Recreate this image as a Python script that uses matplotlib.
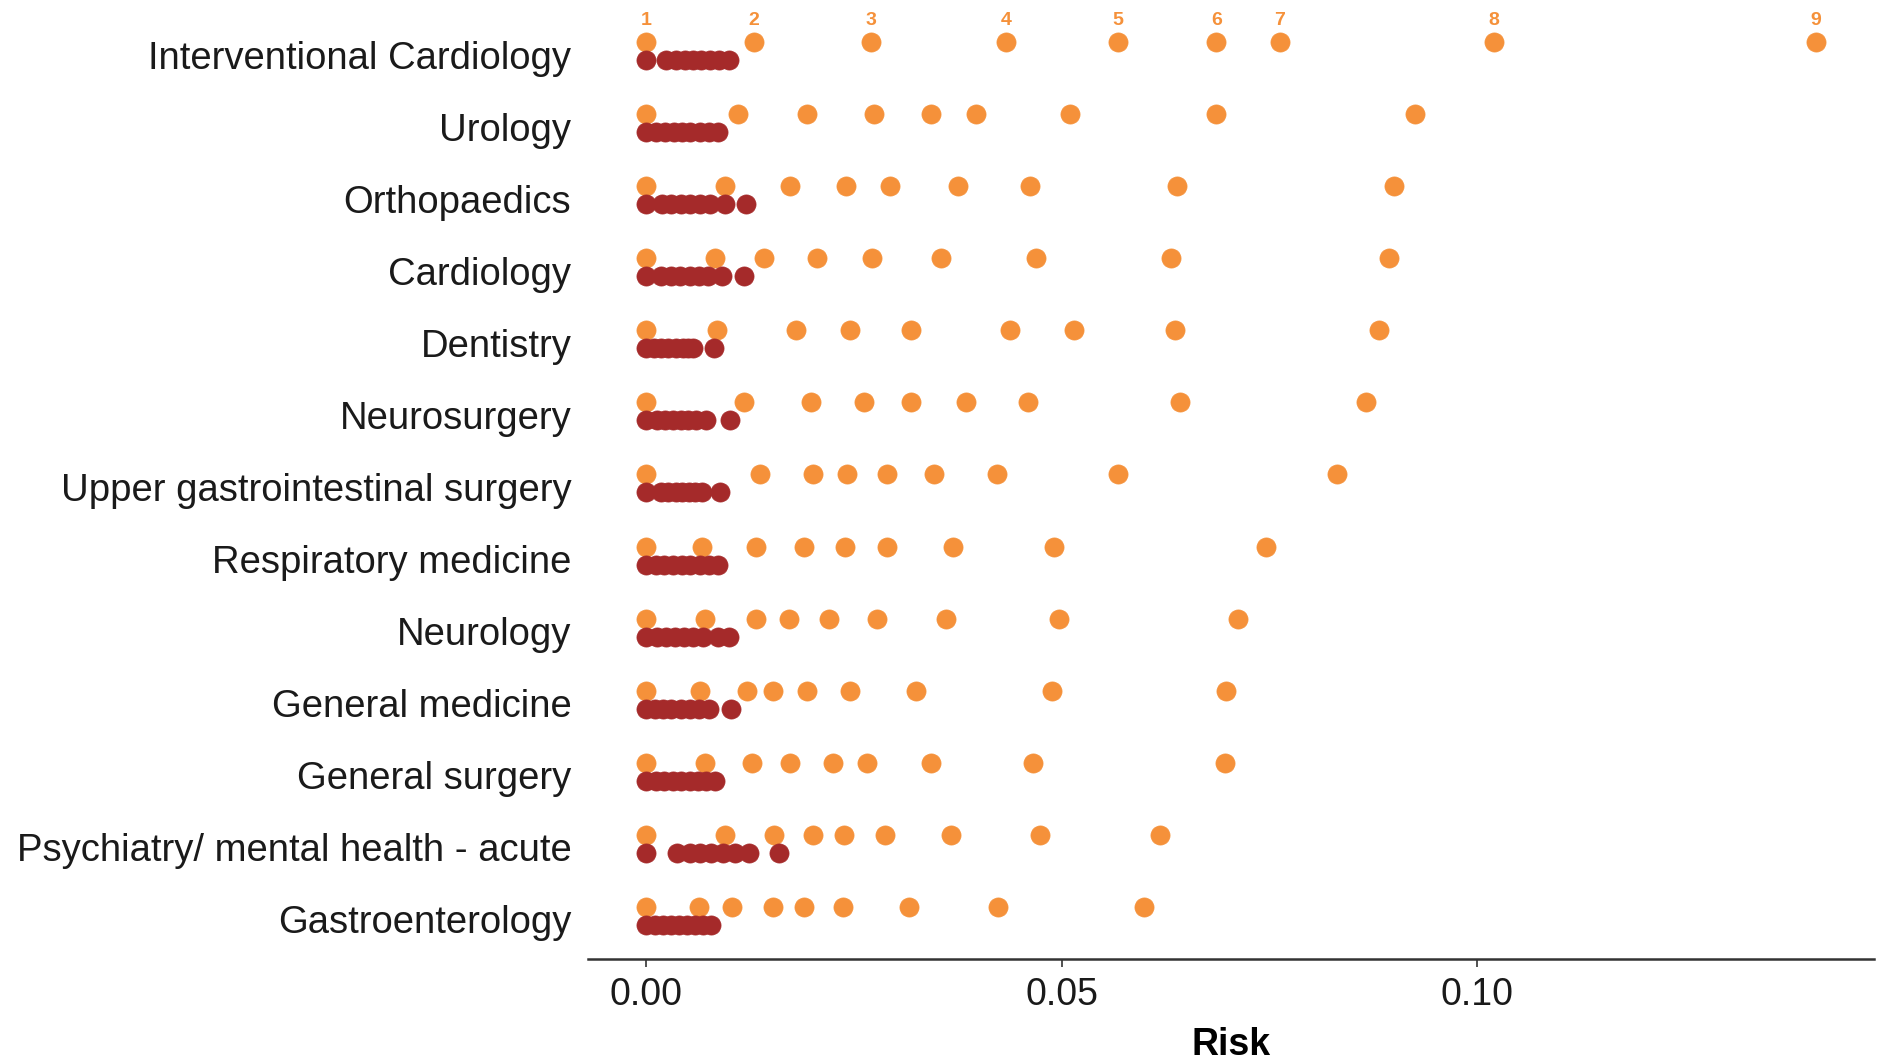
import matplotlib
matplotlib.use("Agg")
import matplotlib.pyplot as plt
import matplotlib.transforms as mtransforms
import numpy as np

plt.rcParams['font.family'] = ['Liberation Sans', 'DejaVu Sans']

# specialties, top to bottom
specialties = [
    "Interventional Cardiology", "Urology", "Orthopaedics", "Cardiology",
    "Dentistry", "Neurosurgery", "Upper gastrointestinal surgery",
    "Respiratory medicine", "Neurology", "General medicine",
    "General surgery", "Psychiatry/ mental health - acute", "Gastroenterology",
]

# upper (orange) risk values per specialty
risk_orange = [
    [0, 0.0129, 0.0270, 0.0433, 0.0567, 0.0686, 0.0762, 0.1020, 0.1407],
    [0, 0.0110, 0.0193, 0.0274, 0.0343, 0.0397, 0.0510, 0.0685, 0.0925],
    [0, 0.0094, 0.0173, 0.0240, 0.0293, 0.0375, 0.0461, 0.0639, 0.0900],
    [0, 0.0082, 0.0141, 0.0205, 0.0272, 0.0354, 0.0469, 0.0631, 0.0894],
    [0, 0.0085, 0.0180, 0.0245, 0.0318, 0.0437, 0.0515, 0.0636, 0.0881],
    [0, 0.0117, 0.0198, 0.0262, 0.0318, 0.0384, 0.0459, 0.0642, 0.0866],
    [0, 0.0137, 0.0201, 0.0241, 0.0290, 0.0346, 0.0422, 0.0567, 0.0831],
    [0, 0.0067, 0.0132, 0.0190, 0.0239, 0.0289, 0.0369, 0.0490, 0.0745],
    [0, 0.0071, 0.0132, 0.0172, 0.0220, 0.0278, 0.0361, 0.0496, 0.0712],
    [0, 0.0064, 0.0121, 0.0152, 0.0193, 0.0245, 0.0324, 0.0488, 0.0698],
    [0, 0.0070, 0.0127, 0.0173, 0.0224, 0.0266, 0.0342, 0.0465, 0.0696],
    [0, 0.0094, 0.0154, 0.0200, 0.0238, 0.0287, 0.0366, 0.0474, 0.0618],
    [0, 0.0063, 0.0103, 0.0152, 0.0190, 0.0237, 0.0316, 0.0423, 0.0599],
]

# lower (dark red) risk values per specialty
risk_red = [
    [0, 0.0024, 0.0035, 0.0046, 0.0056, 0.0066, 0.0076, 0.0087, 0.0099],
    [0, 0.0012, 0.0022, 0.0033, 0.0043, 0.0053, 0.0064, 0.0075, 0.0086],
    [0, 0.0019, 0.0030, 0.0042, 0.0053, 0.0064, 0.0076, 0.0094, 0.0120],
    [0, 0.0018, 0.0029, 0.0040, 0.0052, 0.0063, 0.0074, 0.0091, 0.0117],
    [0, 0.0009, 0.0018, 0.0026, 0.0035, 0.0044, 0.0050, 0.0056, 0.0081],
    [0, 0.0013, 0.0022, 0.0032, 0.0041, 0.0050, 0.0060, 0.0072, 0.0100],
    [0, 0.0018, 0.0026, 0.0035, 0.0043, 0.0051, 0.0059, 0.0067, 0.0088],
    [0, 0.0011, 0.0021, 0.0032, 0.0043, 0.0053, 0.0064, 0.0075, 0.0086],
    [0, 0.0013, 0.0024, 0.0034, 0.0045, 0.0056, 0.0068, 0.0086, 0.0099],
    [0, 0.0010, 0.0020, 0.0030, 0.0041, 0.0052, 0.0063, 0.0075, 0.0102],
    [0, 0.0011, 0.0021, 0.0032, 0.0042, 0.0052, 0.0062, 0.0072, 0.0083],
    [0, 0.0037, 0.0052, 0.0065, 0.0078, 0.0092, 0.0106, 0.0124, 0.0160],
    [0, 0.0010, 0.0020, 0.0029, 0.0039, 0.0049, 0.0058, 0.0068, 0.0078],
]

rank_labels = ["1", "2", "3", "4", "5", "6", "7", "8", "9"]

orange = "#F5913A"
darkred = "#A52A2A"

fig = plt.figure(figsize=(18.81, 10.62), dpi=100)
ax = fig.add_axes([0.3126, 0.097, 0.6837, 0.8955])

for i, name in enumerate(specialties):
    xo = np.array(risk_orange[i])
    xr = np.array(risk_red[i])
    ax.scatter(xo, np.full(len(xo), i - 0.125), s=190, color=orange,
               edgecolors=orange, linewidths=0.5, zorder=3)
    ax.scatter(xr, np.full(len(xr), i + 0.125), s=190, color=darkred,
               edgecolors=darkred, linewidths=0.5, zorder=3)

# rank numbers above the top row
for x, lab in zip(risk_orange[0], rank_labels):
    ax.text(x, -0.43, lab, color=orange, fontsize=14, fontweight="bold",
            ha="center", va="center")

xmax = max(max(r) for r in risk_orange)
pad = 0.05 * xmax
ax.set_xlim(-pad, xmax + pad)
ax.set_ylim(len(specialties) - 1 + 0.6, -0.6)

ax.set_yticks(range(len(specialties)))
ax.set_yticklabels(specialties, fontsize=27.5, color="#1a1a1a")
ax.tick_params(axis="y", length=0, pad=12)
# nudge the specialty names down a little
shift = mtransforms.ScaledTranslation(0, -3.5 / 100, fig.dpi_scale_trans)
for lab in ax.get_yticklabels():
    lab.set_verticalalignment("center_baseline")
    lab.set_transform(lab.get_transform() + shift)

ax.set_xticks([0, 0.05, 0.10])
ax.set_xticklabels(["0.00", "0.05", "0.10"], fontsize=27, color="#1a1a1a")
ax.tick_params(axis="x", length=6, width=1.2, color="#333333", pad=7)
ax.set_xlabel("Risk", fontsize=27, fontweight="bold", labelpad=10)

for side in ["top", "right", "left"]:
    ax.spines[side].set_visible(False)
ax.spines["bottom"].set_linewidth(1.8)
ax.spines["bottom"].set_color("#333333")

fig.savefig("out.png", dpi=100)
